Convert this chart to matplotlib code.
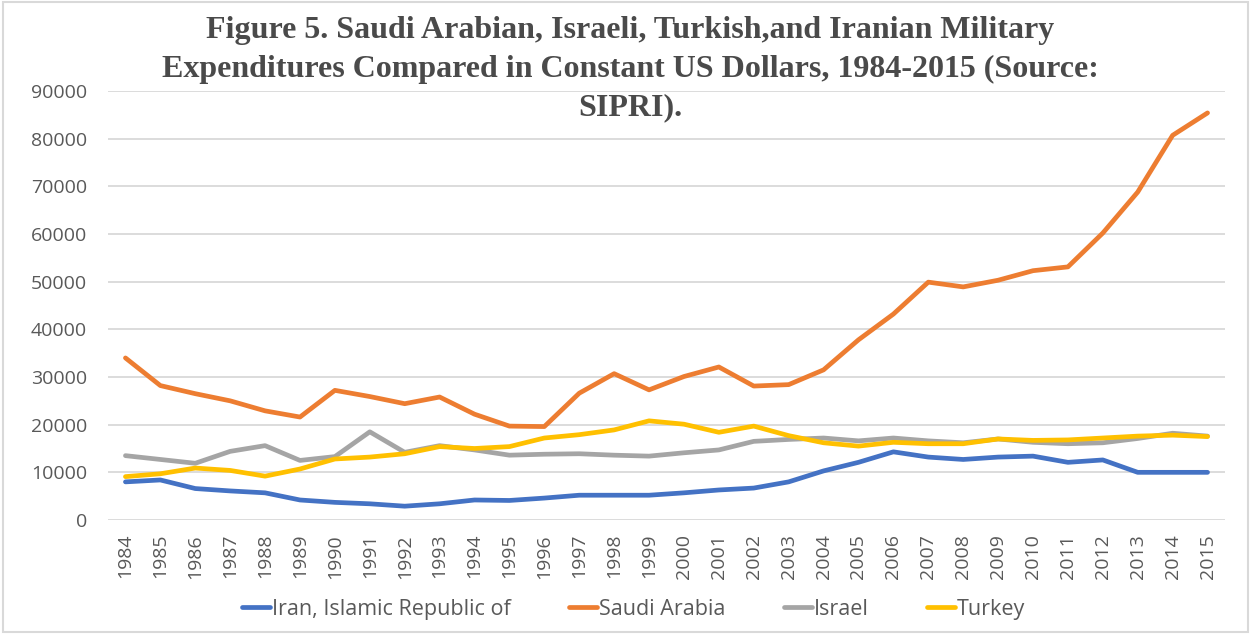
import numpy as np
import matplotlib.pyplot as plt
from matplotlib.patches import Rectangle

years = list(range(1984, 2016))

iran = [8000, 8400, 6600, 6100, 5700, 4200, 3700, 3400, 2900, 3400,
        4200, 4100, 4600, 5200, 5200, 5200, 5700, 6300, 6700, 8000,
        10300, 12100, 14300, 13200, 12700, 13200, 13400, 12100, 12600, 10000,
        10000, 10000]
saudi = [34000, 28200, 26500, 25000, 22900, 21600, 27200, 25900, 24400, 25800,
         22200, 19700, 19600, 26600, 30700, 27300, 30100, 32100, 28100, 28400,
         31500, 37800, 43200, 49900, 48900, 50300, 52300, 53100, 60200, 68800,
         80700, 85400]
israel = [13500, 12700, 11900, 14400, 15600, 12500, 13300, 18500, 14200, 15600,
          14700, 13600, 13800, 13900, 13600, 13400, 14100, 14700, 16500, 16900,
          17200, 16600, 17200, 16600, 16200, 17000, 16300, 16000, 16200, 17100,
          18200, 17600]
turkey = [9100, 9700, 10900, 10400, 9200, 10700, 12800, 13200, 13900, 15400,
          15000, 15400, 17200, 17900, 18900, 20800, 20100, 18400, 19700, 17700,
          16200, 15500, 16300, 16000, 16000, 17000, 16700, 16800, 17200, 17600,
          17800, 17500]

series = [("Iran, Islamic Republic of", iran, "#4472C4"),
          ("Saudi Arabia", saudi, "#ED7D31"),
          ("Israel", israel, "#A5A5A5"),
          ("Turkey", turkey, "#FFC000")]

plt.rcParams['font.family'] = ['Open Sans', 'DejaVu Sans']
txt = "#595959"

fig = plt.figure(figsize=(12.5, 6.34), dpi=100)
ax = fig.add_axes([0.0864, 0.1798, 0.8936, 0.6767])

x = np.arange(len(years))
for name, vals, col in series:
    ax.plot(x, vals, color=col, lw=3.4, label=name, solid_capstyle='round')

ax.set_xlim(-0.5, len(years) - 0.5)
ax.set_ylim(0, 90000)
ax.set_yticks(range(0, 90001, 10000))
ax.set_xticks(x)
ax.set_xticklabels([str(y) for y in years], rotation=90)
ax.grid(axis='y', color='#D9D9D9', lw=1.3)
ax.set_axisbelow(True)
for s in ax.spines.values():
    s.set_visible(False)
ax.tick_params(axis='both', length=0, labelsize=14, colors=txt)
ax.tick_params(axis='y', pad=15)
ax.tick_params(axis='x', pad=10)

fig.text(0.504, 0.974,
         "Figure 5. Saudi Arabian, Israeli, Turkish,and Iranian Military\n"
         "Expenditures Compared in Constant US Dollars, 1984-2015 (Source:\n"
         "SIPRI).",
         ha='center', va='top', fontsize=23, fontweight='bold',
         family='Liberation Serif', color='#4a4a4a', linespacing=1.42)

leg = fig.legend(loc='center', bbox_to_anchor=(0.507, 0.039), ncol=4,
                 frameon=False, fontsize=15.5, handlelength=1.3,
                 columnspacing=2.7, handletextpad=0.1)
for t in leg.get_texts():
    t.set_color(txt)

fig.patches.append(Rectangle((0.002, 0.003), 0.996, 0.994, transform=fig.transFigure,
                             fill=False, edgecolor='#D9D9D9', lw=1.5))

fig.savefig("out.png", dpi=100)
